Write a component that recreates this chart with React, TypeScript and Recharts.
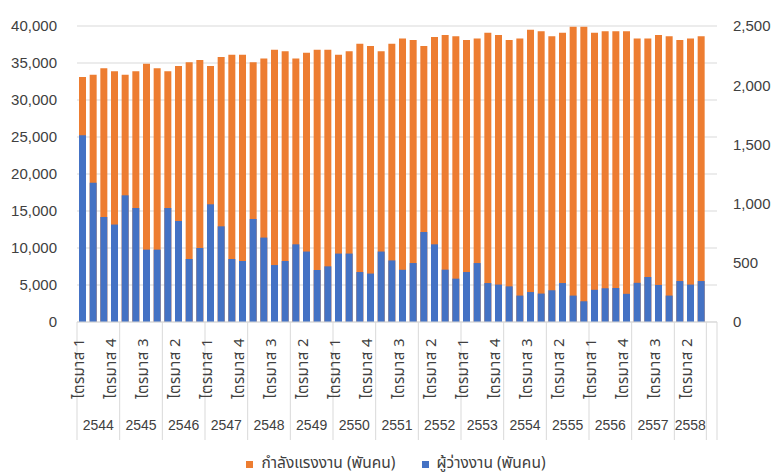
import React from 'react';
import { BarChart, Bar, XAxis, YAxis, CartesianGrid, Legend } from 'recharts';

const years = ['2544','2545','2546','2547','2548','2549','2550','2551','2552','2553','2554','2555','2556','2557','2558'];
const quartersInYear = [4,4,4,4,4,4,4,4,4,4,4,4,4,4,3];

const laborForce = [
  33100, 33400, 34300, 33900, 33400, 33900, 34900, 34300, 33900, 34600,
  35100, 35400, 34600, 35800, 36100, 36100, 35100, 35600, 36800, 36600,
  35600, 36400, 36800, 36800, 36100, 36600, 37600, 37300, 36600, 37600,
  38300, 38100, 37300, 38500, 38800, 38600, 38100, 38300, 39100, 38800,
  38100, 38300, 39500, 39300, 38600, 39100, 39900, 39900, 39100, 39300,
  39300, 39300, 38300, 38300, 38800, 38600, 38100, 38300, 38600,
];

const unemployed = [
  1577, 1177, 887, 823, 1070, 963, 611, 611, 963, 853,
  532, 625, 994, 808, 532, 515, 870, 713, 481, 515,
  656, 595, 439, 470, 578, 578, 422, 409, 595, 520,
  441, 498, 760, 656, 442, 366, 422, 498, 329, 316,
  301, 223, 253, 240, 268, 329, 223, 175, 272, 285,
  287, 238, 331, 380, 313, 223, 346, 316, 346,
];

const leftTicks = [0, 5000, 10000, 15000, 20000, 25000, 30000, 35000, 40000];
const rightTicks = [0, 500, 1000, 1500, 2000, 2500];

const seriesNames = ['กำลังแรงงาน (พันคน)', 'ผู้ว่างงาน (พันคน)'];
const colors = ['#ED7D31', '#4472C4'];

type Row = { key: string; year: string; q: number; n: number; labor: number | null; unemp: number | null };

const rows: Row[] = [];
{
  let k = 0;
  years.forEach((y, yi) => {
    const n = quartersInYear[yi];
    for (let q = 1; q <= n; q++) {
      rows.push({ key: `${y}-${q}`, year: y, q, n, labor: laborForce[k], unemp: unemployed[k] });
      k++;
    }
  });
  rows.push({ key: 'blank', year: '', q: 0, n: 1, labor: null, unemp: null });
}

const fmt = (v: number) => v.toLocaleString('en-US');

const THAI_FONT = '"Noto Sans Thai", "Noto Sans", "DejaVu Sans", sans-serif';
const GRID = '#d9d9d9';
const TXT = '#404040';

const CategoryTick = (props: any) => {
  const { x, y, payload } = props;
  const i: number = props.index ?? payload.index;
  const d = rows[i];
  if (!d) return null;
  const half: number = payload.offset ?? 5.33;
  const els: React.ReactNode[] = [];
  if (d.q === 1 || d.q === 0) {
    els.push(<line key="l" x1={x - half} x2={x - half} y1={y} y2={y + 118} stroke={GRID} strokeWidth={1} />);
    if (d.year) {
      els.push(
        <text key="y" x={x - half + d.n * half} y={y + 108} textAnchor="middle" fontSize={14} fill={TXT} fontFamily="Liberation Sans, Arial, sans-serif">
          {d.year}
        </text>
      );
    }
  }
  if (d.q === 0) {
    els.push(<line key="r" x1={x + half} x2={x + half} y1={y} y2={y + 118} stroke={GRID} strokeWidth={1} />);
  }
  if (d.q > 0 && i % 3 === 0) {
    const tx = x - 4;
    const ty = y + 16;
    els.push(
      <text key="q" x={tx} y={ty} transform={`rotate(-90, ${tx}, ${ty})`} textAnchor="end" dy="0.35em" fontSize={15} letterSpacing={0.4} fill={TXT} fontFamily={THAI_FONT}>
        {`ไตรมาส ${d.q}`}
      </text>
    );
  }
  return <g>{els}</g>;
};

const LegendContent = () => (
  <div style={{ display: 'flex', justifyContent: 'center', alignItems: 'center', gap: 26, marginLeft: 18, height: 22, lineHeight: '22px', fontFamily: THAI_FONT, fontSize: 15.5, color: TXT }}>
    {seriesNames.map((name, i) => (
      <span key={name} style={{ display: 'inline-flex', alignItems: 'center', height: 22 }}>
        <span style={{ display: 'inline-block', width: 7, height: 7, background: colors[i], marginRight: 8 }} />
        {name}
      </span>
    ))}
  </div>
);

export default function App() {
  return (
    <div style={{ position: 'absolute', left: 0, top: 0, width: 774, height: 475, background: '#fff' }}>
      <BarChart width={774} height={475} data={rows} margin={{ top: 26, right: 0, bottom: 0, left: 0 }} barSize={7} barGap={-7}>
        <CartesianGrid yAxisId="left" vertical={false} stroke={GRID} />
        <XAxis
          dataKey="key"
          interval={0}
          tickLine={false}
          tickSize={0}
          tickMargin={0}
          height={131}
          axisLine={{ stroke: GRID }}
          tick={<CategoryTick />}
        />
        <YAxis
          yAxisId="left"
          width={77}
          domain={[0, 40000]}
          ticks={leftTicks}
          tickFormatter={fmt}
          axisLine={false}
          tickLine={false}
          tickMargin={14}
          tick={{ fontSize: 15, fill: TXT, fontFamily: 'Liberation Sans, Arial, sans-serif' }}
        />
        <YAxis
          yAxisId="right"
          orientation="right"
          width={57}
          domain={[0, 2500]}
          ticks={rightTicks}
          tickFormatter={fmt}
          axisLine={false}
          tickLine={false}
          tickMargin={10}
          tick={{ fontSize: 15, fill: TXT, fontFamily: 'Liberation Sans, Arial, sans-serif' }}
        />
        <Legend verticalAlign="bottom" height={22} content={<LegendContent />} />
        <Bar yAxisId="left" dataKey="labor" name={seriesNames[0]} fill={colors[0]} isAnimationActive={false} />
        <Bar yAxisId="right" dataKey="unemp" name={seriesNames[1]} fill={colors[1]} isAnimationActive={false} />
      </BarChart>
    </div>
  );
}
